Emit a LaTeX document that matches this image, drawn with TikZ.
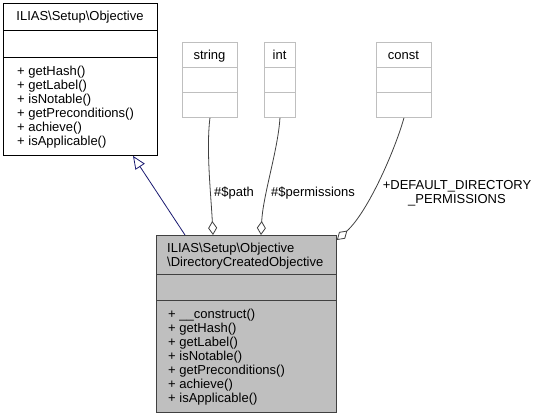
\documentclass[tikz,border=0pt]{standalone}
\usepackage{fontspec}
\setmainfont{Liberation Sans}
\usetikzlibrary{arrows.meta,calc}
\definecolor{edgegray}{HTML}{404040}
\definecolor{lightgray}{HTML}{BFBFBF}
\definecolor{navyedge}{HTML}{191970}
\begin{document}
\begin{tikzpicture}[x=1pt,y=-1pt,
  font=\fontsize{13}{14}\selectfont,
  classbox/.style={draw=black, line width=0.9pt, rectangle, inner sep=0pt, anchor=north west},
  curbox/.style={draw=edgegray, fill=lightgray, line width=0.9pt, rectangle, inner sep=0pt, anchor=north west},
  typebox/.style={draw=lightgray, line width=0.9pt, rectangle, inner sep=0pt, anchor=north west},
  divider/.style={line width=0.9pt},
  txt/.style={inner sep=0pt, anchor=north west, align=left},
  ctxt/.style={inner sep=0pt, anchor=base},
  agg/.style={draw=edgegray, line width=0.8pt, -{Diamond[fill=white, length=14pt, width=9pt, line width=0.8pt]}},
  inh/.style={draw=navyedge, line width=0.8pt, -{Triangle[fill=white, length=13pt, width=11pt, line width=0.8pt]}}
]
\useasboundingbox (0,0) rectangle (543,419);

% ILIAS\Setup\Objective
\node[classbox, minimum width=154pt, minimum height=152pt] (obj) at (3,3) {};
\draw[divider] ($(obj.north west)+(0,27)$) -- ($(obj.north east)+(0,27)$);
\draw[divider] ($(obj.north west)+(0,54)$) -- ($(obj.north east)+(0,54)$);
\node[ctxt] (objtitle) at (80,21) {ILIAS\textbackslash Setup\textbackslash Objective};
\node[txt] (objmeth) at (17,66) {+ getHash()\\+ getLabel()\\+ isNotable()\\+ getPreconditions()\\+ achieve()\\+ isApplicable()};

% type boxes
\node[typebox, minimum width=55pt, minimum height=75pt] (str) at (182,42) {};
\draw[draw=lightgray, divider] ($(str.north west)+(0,25)$) -- ($(str.north east)+(0,25)$);
\draw[draw=lightgray, divider] ($(str.north west)+(0,50)$) -- ($(str.north east)+(0,50)$);
\node[ctxt] (strtitle) at (209.5,59.5) {string};

\node[typebox, minimum width=31pt, minimum height=75pt] (int) at (264,42) {};
\draw[draw=lightgray, divider] ($(int.north west)+(0,25)$) -- ($(int.north east)+(0,25)$);
\draw[draw=lightgray, divider] ($(int.north west)+(0,50)$) -- ($(int.north east)+(0,50)$);
\node[ctxt] (inttitle) at (279.5,59.5) {int};

\node[typebox, minimum width=55pt, minimum height=75pt] (cst) at (376,42) {};
\draw[draw=lightgray, divider] ($(cst.north west)+(0,25)$) -- ($(cst.north east)+(0,25)$);
\draw[draw=lightgray, divider] ($(cst.north west)+(0,50)$) -- ($(cst.north east)+(0,50)$);
\node[ctxt] (csttitle) at (403.5,59.5) {const};

% DirectoryCreatedObjective
\node[curbox, minimum width=180pt, minimum height=177pt] (dco) at (156,235) {};
\draw[divider, draw=edgegray] ($(dco.north west)+(0,39)$) -- ($(dco.north east)+(0,39)$);
\draw[divider, draw=edgegray] ($(dco.north west)+(0,65)$) -- ($(dco.north east)+(0,65)$);
\node[txt] (dcotitle) at (167,243) {ILIAS\textbackslash Setup\textbackslash Objective\\\textbackslash DirectoryCreatedObjective};
\node[txt] (dcometh) at (168,309) {+ \_\_construct()\\+ getHash()\\+ getLabel()\\+ isNotable()\\+ getPreconditions()\\+ achieve()\\+ isApplicable()};

% connectors
\coordinate (inhstart) at ($(dco.north west)+(29,0)$);
\coordinate (inhend) at ($(obj.south west)+(130,0)$);
\draw[inh] (inhstart) -- (inhend);

\coordinate (pathend) at ($(dco.north west)+(57,0)$);
\draw[agg] (str.south) .. controls (206,150) and (211,195) .. (pathend);
\node[ctxt] (pathlbl) at (234,197) {\#\$path};

\coordinate (permend) at ($(dco.north west)+(105,0)$);
\draw[agg] (int.south) .. controls (278,150) and (263,195) .. (permend);
\node[ctxt] (permlbl) at (313,197) {\#\$permissions};

\coordinate (constend) at ($(dco.north east)+(0,5)$);
\draw[agg] (cst.south) .. controls (395,150) and (368,212) .. (constend);
\node[inner sep=0pt, align=center] (constlbl) at (457,193) {+DEFAULT\_DIRECTORY\\\_PERMISSIONS};
\end{tikzpicture}
\end{document}
